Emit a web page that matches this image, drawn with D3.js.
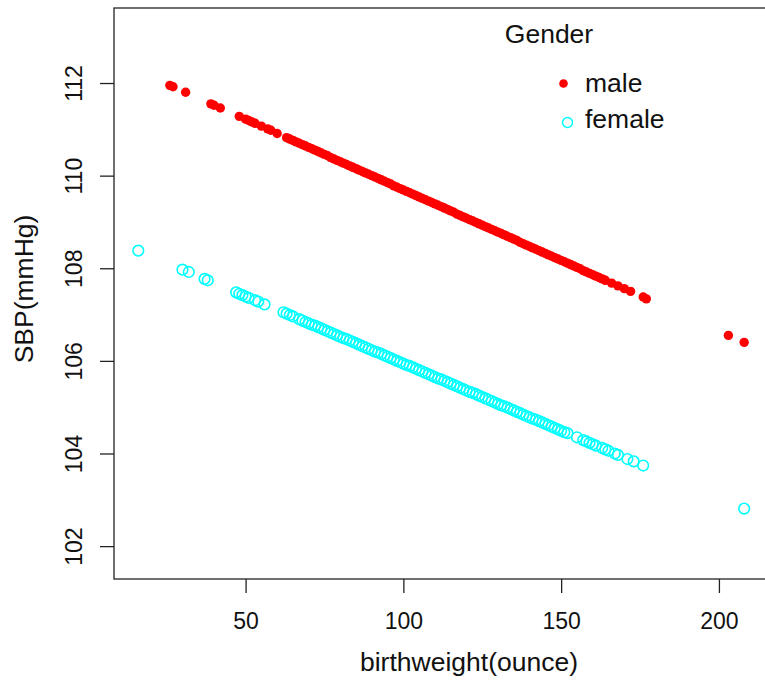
<!DOCTYPE html>
<html>
<head>
<meta charset="utf-8">
<script src="https://cdn.jsdelivr.net/npm/d3@7"></script>
<style>
  body { margin: 0; background: #fff; }
  svg { font-family: "Liberation Sans", Arial, sans-serif; }
</style>
</head>
<body>
<div id="chart"></div>
<script>
// Data
const genders = ["male", "female"];
const xTicks = [50, 100, 150, 200];
const yTicks = [102, 104, 106, 108, 110, 112];

const maleWeight = [26, 27, 31, 39, 40, 42, 48, 50, 51, 52, 53, 55, 57, 58, 60,
  63, 64, 65, 66, 67, 68, 69, 70, 71, 72, 73, 74, 75, 76, 77, 78, 79, 80, 81, 82,
  83, 84, 85, 86, 87, 88, 89, 90, 91, 92, 93, 94, 95, 96, 97, 98, 99, 100, 101, 102,
  103, 104, 105, 106, 107, 108, 109, 110, 111, 112, 113, 114, 115, 116, 117, 118, 119, 120,
  121, 122, 123, 124, 125, 126, 127, 128, 129, 130, 131, 132, 133, 134, 135, 136, 137, 138,
  139, 140, 141, 142, 143, 144, 145, 146, 147, 148, 149, 150, 151, 152, 153, 154, 155, 156,
  157, 158, 159, 160, 161, 162, 163, 164, 166, 168, 170, 172, 176, 177, 203, 208];
const maleSBP = [111.95, 111.92, 111.80, 111.55, 111.52, 111.46, 111.28, 111.22, 111.19, 111.16, 111.13, 111.07, 111.01, 110.98, 110.91,
  110.82, 110.79, 110.76, 110.73, 110.70, 110.67, 110.64, 110.61, 110.58, 110.55, 110.52, 110.49, 110.46, 110.43, 110.39, 110.36, 110.33, 110.30, 110.27, 110.24,
  110.21, 110.18, 110.15, 110.12, 110.09, 110.06, 110.03, 110.00, 109.97, 109.94, 109.91, 109.88, 109.85, 109.82, 109.78, 109.75, 109.72, 109.69, 109.66, 109.63,
  109.60, 109.57, 109.54, 109.51, 109.48, 109.45, 109.42, 109.39, 109.36, 109.33, 109.30, 109.27, 109.24, 109.21, 109.17, 109.14, 109.11, 109.08,
  109.05, 109.02, 108.99, 108.96, 108.93, 108.90, 108.87, 108.84, 108.81, 108.78, 108.75, 108.72, 108.69, 108.66, 108.63, 108.60, 108.56, 108.53,
  108.50, 108.47, 108.44, 108.41, 108.38, 108.35, 108.32, 108.29, 108.26, 108.23, 108.20, 108.17, 108.14, 108.11, 108.08, 108.05, 108.02, 107.99,
  107.95, 107.92, 107.89, 107.86, 107.83, 107.80, 107.77, 107.74, 107.68, 107.62, 107.56, 107.50, 107.38, 107.34, 106.55, 106.40];

const femaleWeight = [16, 30, 32, 37, 38, 47, 48, 49, 50, 51, 53, 54, 56,
  62, 63, 64, 65, 67, 68, 69, 70, 71, 72, 73, 74, 75, 76, 77, 78, 79, 80, 81, 82,
  83, 84, 85, 86, 87, 88, 89, 90, 91, 92, 93, 94, 95, 96, 97, 98, 99, 100, 101, 102,
  103, 104, 105, 106, 107, 108, 109, 110, 111, 112, 113, 114, 115, 116, 117, 118, 119, 120,
  121, 122, 123, 124, 125, 126, 127, 128, 129, 130, 131, 132, 133, 134, 135, 136, 137, 138,
  139, 140, 141, 142, 143, 144, 145, 146, 147, 148, 149, 150, 151, 152,
  155, 157, 158, 159, 160, 161, 163, 164, 165, 167, 168, 171, 173, 176, 208];
const femaleSBP = [108.38, 107.97, 107.92, 107.77, 107.74, 107.48, 107.45, 107.42, 107.39, 107.36, 107.31, 107.28, 107.22,
  107.05, 107.02, 106.99, 106.96, 106.90, 106.87, 106.84, 106.81, 106.78, 106.76, 106.73, 106.70, 106.67, 106.64, 106.61, 106.58, 106.55, 106.52, 106.49, 106.47,
  106.44, 106.41, 106.38, 106.35, 106.32, 106.29, 106.26, 106.23, 106.20, 106.18, 106.15, 106.12, 106.09, 106.06, 106.03, 106.00, 105.97, 105.94, 105.91, 105.89,
  105.86, 105.83, 105.80, 105.77, 105.74, 105.71, 105.68, 105.65, 105.62, 105.60, 105.57, 105.54, 105.51, 105.48, 105.45, 105.42, 105.39, 105.36,
  105.33, 105.31, 105.28, 105.25, 105.22, 105.19, 105.16, 105.13, 105.10, 105.07, 105.04, 105.02, 104.99, 104.96, 104.93, 104.90, 104.87, 104.84,
  104.81, 104.78, 104.75, 104.73, 104.70, 104.67, 104.64, 104.61, 104.58, 104.55, 104.52, 104.49, 104.46, 104.44,
  104.35, 104.29, 104.26, 104.23, 104.20, 104.17, 104.12, 104.09, 104.06, 104.00, 103.97, 103.88, 103.83, 103.74, 102.81];

const width = 765, height = 684;
const plot = { left: 114, right: 824, top: 8, bottom: 579 };

const x = d3.scaleLinear().domain([8.3, 233.3]).range([plot.left, plot.right]);
const y = d3.scaleLinear().domain([101.29, 113.62]).range([plot.bottom, plot.top]);

const svg = d3.select("#chart").append("svg")
  .attr("width", width)
  .attr("height", height);

// plot frame (right side falls outside the picture)
svg.append("rect")
  .attr("x", plot.left).attr("y", plot.top)
  .attr("width", plot.right - plot.left).attr("height", plot.bottom - plot.top)
  .attr("fill", "none").attr("stroke", "#222").attr("stroke-width", 1.3);

// x axis
const gx = svg.append("g")
  .attr("transform", `translate(0,${plot.bottom})`)
  .call(d3.axisBottom(x).tickValues(xTicks).tickSize(14).tickPadding(20).tickSizeOuter(0));
gx.select(".domain").remove();
gx.selectAll("line").attr("stroke", "#222").attr("stroke-width", 1.3);
gx.selectAll("text").attr("font-size", 23).attr("fill", "#111")
  .attr("font-family", "Liberation Sans, Arial, sans-serif");

// y axis, labels parallel to the axis
const gy = svg.append("g")
  .attr("transform", `translate(${plot.left},0)`)
  .call(d3.axisLeft(y).tickValues(yTicks).tickSize(14).tickSizeOuter(0));
gy.select(".domain").remove();
gy.selectAll("line").attr("stroke", "#222").attr("stroke-width", 1.3);
gy.selectAll("text")
  .attr("transform", "rotate(-90)")
  .attr("x", 0).attr("y", -32).attr("dy", 0)
  .attr("text-anchor", "middle")
  .attr("font-size", 23).attr("fill", "#111")
  .attr("font-family", "Liberation Sans, Arial, sans-serif");

// axis titles
svg.append("text")
  .attr("x", 469).attr("y", 671)
  .attr("text-anchor", "middle")
  .attr("font-size", 26.5).attr("fill", "#111")
  .text("birthweight(ounce)");

svg.append("text")
  .attr("transform", "translate(33,289) rotate(-90)")
  .attr("text-anchor", "middle")
  .attr("font-size", 26.5).attr("fill", "#111")
  .text("SBP(mmHg)");

// points
const male = maleWeight.map((w, i) => ({ w, s: maleSBP[i] }));
const female = femaleWeight.map((w, i) => ({ w, s: femaleSBP[i] }));

svg.append("g").selectAll("circle")
  .data(male)
  .enter().append("circle")
  .attr("cx", d => x(d.w))
  .attr("cy", d => y(d.s))
  .attr("r", 4.7)
  .attr("fill", "#FF0000");

svg.append("g").selectAll("circle")
  .data(female)
  .enter().append("circle")
  .attr("cx", d => x(d.w))
  .attr("cy", d => y(d.s))
  .attr("r", 5.3)
  .attr("fill", "none")
  .attr("stroke", "#00FFFF")
  .attr("stroke-width", 1.6);

// legend
const legend = svg.append("g");
legend.append("text")
  .attr("x", 549).attr("y", 43)
  .attr("text-anchor", "middle")
  .attr("font-size", 26.5).attr("fill", "#111")
  .text("Gender");

const legendRows = [
  { label: genders[0], cx: 563.5, cy: 83.5, ty: 92 },
  { label: genders[1], cx: 567.5, cy: 122.5, ty: 127.5 }
];
legendRows.forEach((d, i) => {
  const c = legend.append("circle")
    .attr("cx", d.cx).attr("cy", d.cy);
  if (i === 0) c.attr("r", 4.3).attr("fill", "#FF0000");
  else c.attr("r", 5).attr("fill", "none").attr("stroke", "#00FFFF").attr("stroke-width", 1.5);
  legend.append("text")
    .attr("x", 585).attr("y", d.ty)
    .attr("font-size", 26.5).attr("fill", "#111")
    .text(d.label);
});
</script>
</body>
</html>
